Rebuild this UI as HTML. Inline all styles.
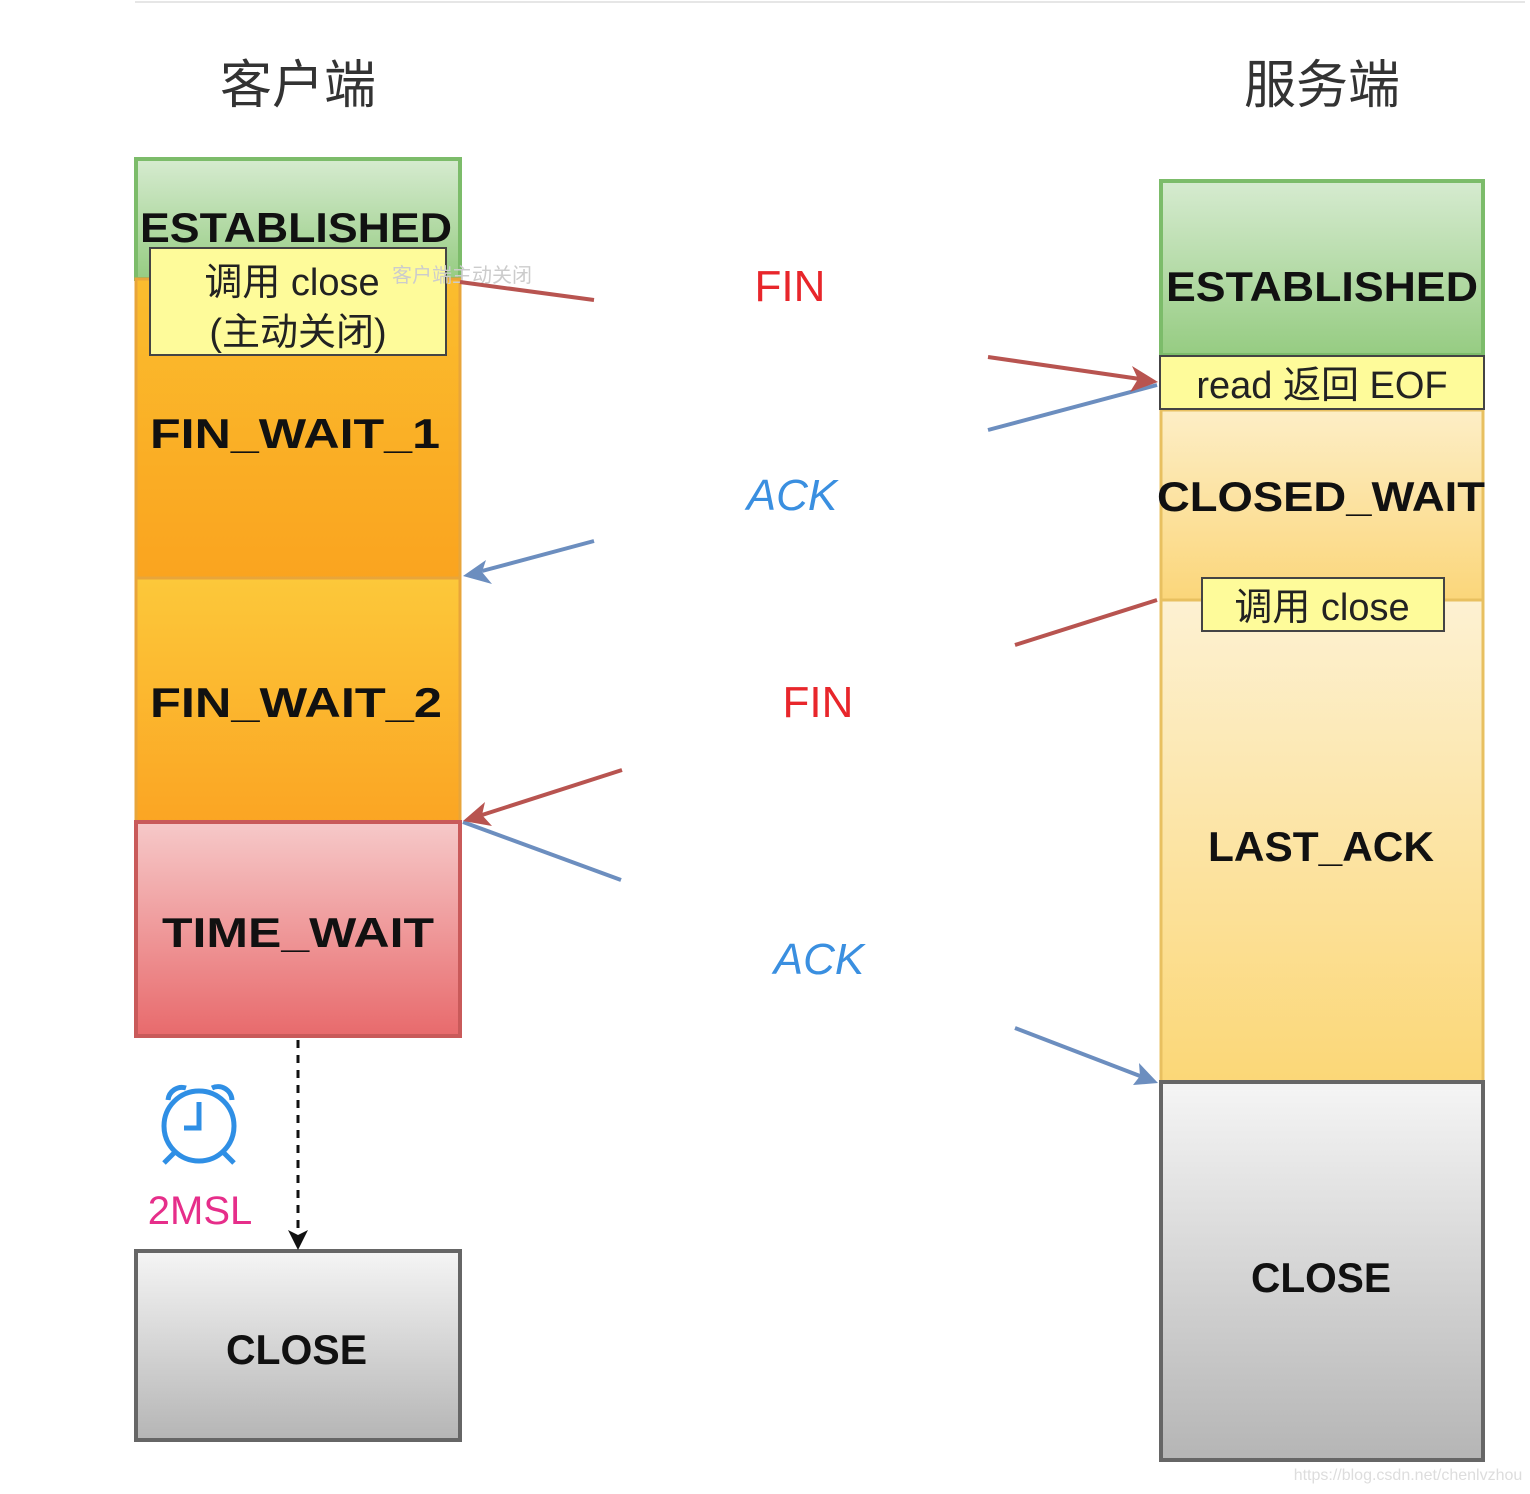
<!DOCTYPE html>
<html><head><meta charset="utf-8"><style>
html,body{margin:0;padding:0;background:#fff;}
svg{display:block;}
.st{font-family:"Liberation Sans","Noto Sans CJK SC",sans-serif;font-weight:bold;font-size:42px;fill:#111;}
.cn{font-family:"Liberation Sans","Noto Sans CJK SC",sans-serif;font-size:38px;fill:#222;}
</style></head><body>
<svg width="1530" height="1494" viewBox="0 0 1530 1494" xmlns="http://www.w3.org/2000/svg">
<defs>
<linearGradient id="g" x1="0" y1="0" x2="0" y2="1"><stop offset="0" stop-color="#d6ebd0"/><stop offset="1" stop-color="#96cc82"/></linearGradient>
<linearGradient id="o1" x1="0" y1="0" x2="0" y2="1"><stop offset="0" stop-color="#fbbd2e"/><stop offset="1" stop-color="#faa41f"/></linearGradient>
<linearGradient id="o2" x1="0" y1="0" x2="0" y2="1"><stop offset="0" stop-color="#fcc83a"/><stop offset="1" stop-color="#fba523"/></linearGradient>
<linearGradient id="r" x1="0" y1="0" x2="0" y2="1"><stop offset="0" stop-color="#f6c9c9"/><stop offset="1" stop-color="#e86a6c"/></linearGradient>
<linearGradient id="gr" x1="0" y1="0" x2="0" y2="1"><stop offset="0" stop-color="#f5f5f5"/><stop offset="1" stop-color="#b5b5b5"/></linearGradient>
<linearGradient id="y1" x1="0" y1="0" x2="0" y2="1"><stop offset="0" stop-color="#fdeec6"/><stop offset="1" stop-color="#fbd67a"/></linearGradient>
<linearGradient id="y2" x1="0" y1="0" x2="0" y2="1"><stop offset="0" stop-color="#fdf1d2"/><stop offset="1" stop-color="#fbd777"/></linearGradient>
</defs>
<line x1="135" y1="2" x2="1525" y2="2" stroke="#e6e6e6" stroke-width="2"/>
<text x="298" y="103" text-anchor="middle" font-family="Liberation Sans,'Noto Sans CJK SC',sans-serif" font-size="52" fill="#333">客户端</text>
<text x="1322" y="103" text-anchor="middle" font-family="Liberation Sans,'Noto Sans CJK SC',sans-serif" font-size="52" fill="#333">服务端</text>
<rect x="136" y="159" width="324" height="120" fill="url(#g)" stroke="#7cbc6a" stroke-width="4"/>
<rect x="136" y="279" width="324" height="299" fill="url(#o1)" stroke="#e8a53a" stroke-width="3"/>
<rect x="136" y="578" width="324" height="244" fill="url(#o2)" stroke="#e8a53a" stroke-width="3"/>
<rect x="136" y="822" width="324" height="214" fill="url(#r)" stroke="#c95a5a" stroke-width="4"/>
<rect x="136" y="1251" width="324" height="189" fill="url(#gr)" stroke="#666" stroke-width="4"/>
<text class="st" x="140" y="242" textLength="312" lengthAdjust="spacingAndGlyphs">ESTABLISHED</text>
<rect x="150" y="248" width="296" height="107" fill="#fefb9a" stroke="#444" stroke-width="2"/>
<text class="cn" x="292" y="295" text-anchor="middle">调用 close</text>
<text class="cn" x="298" y="345" text-anchor="middle">(主动关闭)</text>
<text x="462" y="282" text-anchor="middle" font-family="Liberation Sans,'Noto Sans CJK SC',sans-serif" font-size="20" fill="#ccc">客户端主动关闭</text>
<text class="st" x="150" y="448" textLength="290" lengthAdjust="spacingAndGlyphs">FIN_WAIT_1</text>
<text class="st" x="150" y="717" textLength="292" lengthAdjust="spacingAndGlyphs">FIN_WAIT_2</text>
<text class="st" x="162" y="947" textLength="272" lengthAdjust="spacingAndGlyphs">TIME_WAIT</text>
<text class="st" x="226" y="1364" textLength="141" lengthAdjust="spacingAndGlyphs">CLOSE</text>
<rect x="1161" y="181" width="322" height="174" fill="url(#g)" stroke="#7cbc6a" stroke-width="4"/>
<rect x="1161" y="410" width="322" height="190" fill="url(#y1)" stroke="#e8c060" stroke-width="3"/>
<rect x="1161" y="600" width="322" height="482" fill="url(#y2)" stroke="#e8c060" stroke-width="3"/>
<rect x="1161" y="1082" width="322" height="378" fill="url(#gr)" stroke="#666" stroke-width="4"/>
<text class="st" x="1166" y="301" textLength="312" lengthAdjust="spacingAndGlyphs">ESTABLISHED</text>
<rect x="1160" y="356" width="324" height="53" fill="#fefb9a" stroke="#444" stroke-width="2"/>
<text class="cn" x="1322" y="398" text-anchor="middle">read 返回 EOF</text>
<text class="st" x="1157" y="511" textLength="328" lengthAdjust="spacingAndGlyphs">CLOSED_WAIT</text>
<rect x="1202" y="578" width="242" height="53" fill="#fefb9a" stroke="#444" stroke-width="2"/>
<text class="cn" x="1322" y="620" text-anchor="middle">调用 close</text>
<text class="st" x="1208" y="861" textLength="226" lengthAdjust="spacingAndGlyphs">LAST_ACK</text>
<text class="st" x="1251" y="1292" textLength="140" lengthAdjust="spacingAndGlyphs">CLOSE</text>
<g font-family="Liberation Sans,sans-serif" font-size="44">
<text x="790" y="301" text-anchor="middle" fill="#e8262b">FIN</text>
<text x="792" y="510" text-anchor="middle" fill="#3a8fe0" font-style="italic">ACK</text>
<text x="818" y="717" text-anchor="middle" fill="#e8262b">FIN</text>
<text x="819" y="974" text-anchor="middle" fill="#3a8fe0" font-style="italic">ACK</text>
</g>
<g stroke-width="4" fill="none">
<line x1="460" y1="282" x2="594" y2="300" stroke="#b85450"/>
<line x1="988" y1="357" x2="1140" y2="379" stroke="#b85450"/>
<line x1="988" y1="430" x2="1157" y2="385" stroke="#6c8ebf"/>
<line x1="594" y1="541" x2="482" y2="571" stroke="#6c8ebf"/>
<line x1="1157" y1="600" x2="1015" y2="645" stroke="#b85450"/>
<line x1="622" y1="770" x2="482" y2="815" stroke="#b85450"/>
<line x1="463" y1="822" x2="621" y2="880" stroke="#6c8ebf"/>
<line x1="1015" y1="1028" x2="1140" y2="1076" stroke="#6c8ebf"/>
<line x1="298" y1="1040" x2="298" y2="1232" stroke="#111" stroke-width="3" stroke-dasharray="8,7"/>
</g>
<polygon points="1158,382 1132,366 1138,379 1130,392" fill="#b85450"/>
<polygon points="463,576 486,560 482,572 492,584" fill="#6c8ebf"/>
<polygon points="463,821 485,802 482,815 492,826" fill="#b85450"/>
<polygon points="1158,1083 1133,1085 1140,1076 1139,1063" fill="#6c8ebf"/>
<polygon points="298,1250 288,1230 298,1235 308,1230" fill="#111"/>
<g stroke="#2f8fe5" stroke-width="5" fill="none">
<circle cx="199" cy="1126" r="35"/>
<polyline points="199,1102 199,1128 184,1128"/>
<path d="M168,1100 A14,14 0 0 1 186,1088"/>
<path d="M212,1088 A14,14 0 0 1 232,1100"/>
<line x1="175" y1="1152" x2="164" y2="1163"/>
<line x1="223" y1="1152" x2="234" y2="1163"/>
</g>
<text x="200" y="1224" text-anchor="middle" font-family="Liberation Sans,sans-serif" font-size="40" fill="#e62e8a">2MSL</text>
<text x="1408" y="1480" text-anchor="middle" font-family="Liberation Sans,sans-serif" font-size="16" fill="#ddd">https://blog.csdn.net/chenlvzhou</text>
</svg>
</body></html>
